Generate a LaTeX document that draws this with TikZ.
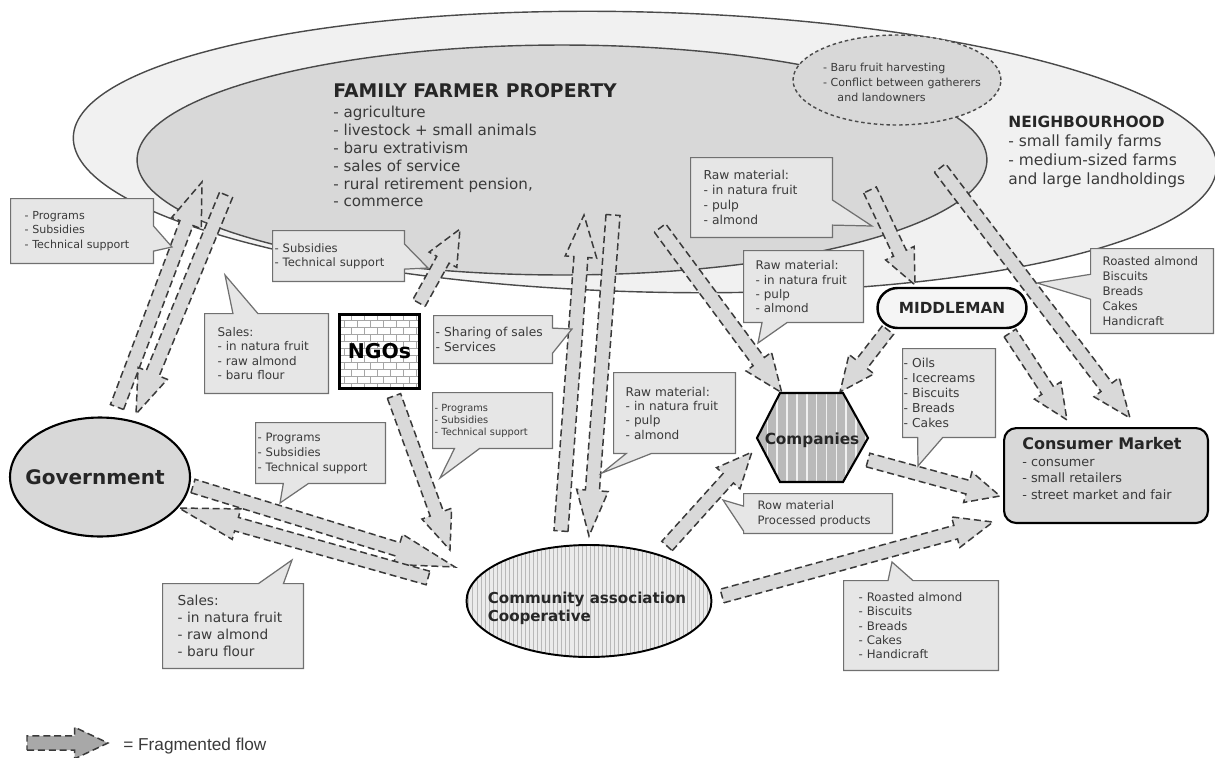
\documentclass[tikz,border=0pt]{standalone}
\usepackage{fontspec}
\setmainfont{DejaVu Sans}
\newfontfamily\legendfont{Liberation Sans}
\usetikzlibrary{shapes.geometric,shapes.callouts,shapes.misc,patterns,patterns.meta,calc}

\definecolor{outerfill}{HTML}{F1F1F1}
\definecolor{innerfill}{HTML}{D8D8D8}
\definecolor{ellline}{HTML}{4A4A4A}
\definecolor{boxfill}{HTML}{E6E6E6}
\definecolor{boxline}{HTML}{707070}
\definecolor{arrowfill}{HTML}{D9D9D9}
\definecolor{arrowline}{HTML}{3A3A3A}
\definecolor{textgray}{HTML}{3A3A3A}
\definecolor{legendfill}{HTML}{A8A8A8}

\newcommand\fsz[2]{\fontsize{#1}{#2}\selectfont}

% fat dashed flow arrow: #1 extra style, #2 head length, #3 start, #4 tip
\newcommand\fflow[4][]{%
  \draw[flowarrow,#1] let \p1=(#3), \p2=(#4),
    \n1={atan2(\y2-\y1,\x2-\x1)}, \n2={veclen(\x2-\x1,\y2-\y1)} in
    [shift={(\p1)}, rotate=\n1]
    (0pt,-4pt) -- ({\n2-#2},-4pt) -- ({\n2-#2},-9pt) -- ({\n2+0pt},0pt)
    -- ({\n2-#2},9pt) -- ({\n2-#2},4pt) -- (0pt,4pt) -- cycle;}

\tikzset{
  flowarrow/.style={draw=arrowline, fill=arrowfill, line width=0.85pt,
    dash pattern=on 4pt off 2.2pt, line join=miter},
  callbox/.style={rectangle callout, draw=boxline, fill=boxfill, line width=0.7pt,
    align=left, anchor=north west, inner ysep=0pt, text=textgray,
    callout pointer width=0.5cm},
  bigellipse/.style={ellipse, draw=ellline, line width=0.8pt, inner sep=0pt},
  plaintext/.style={inner sep=0pt, align=left, anchor=north west},
}

\begin{document}
\begin{tikzpicture}[x=0.02cm,y=-0.02cm]
\useasboundingbox (0,0) rectangle (1215,758);
\fill[white] (0,0) rectangle (1215,758);

% ---------- property areas ----------
\node[bigellipse, fill=outerfill, minimum width=22.88cm, minimum height=5.6cm, rotate=-1.5] (neigh) at (645,152) {};
\node[bigellipse, fill=innerfill, minimum width=17cm, minimum height=4.6cm] (family) at (562,160) {};
\node[bigellipse, fill=innerfill, dash pattern=on 2pt off 1.6pt, minimum width=4.16cm, minimum height=1.8cm] (harvest) at (897,80) {};
\node[inner sep=0pt, align=left, text=textgray, font=\fsz{6.3}{8.5}] (harvesttext) at (902,82)
  {- Baru fruit harvesting\\- Conflict between gatherers\\\hspace*{1.3em}and landowners};

\node[inner sep=0pt, anchor=base west, font=\fsz{10.7}{12}\bfseries, text=black!85] (famtitle) at (333,97) {FAMILY FARMER PROPERTY};
\node[plaintext, font=\fsz{8.6}{10.2}, text=textgray] (famlist) at (333,105.5)
  {- agriculture\\- livestock + small animals\\- baru extrativism\\- sales of service\\- rural retirement pension,\\- commerce};

\node[plaintext, font=\fsz{8.8}{10.8}, text=textgray] (neightext) at (1008,116)
  {\textcolor{black!85}{\textbf{NEIGHBOURHOOD}}\\- small family farms\\- medium-sized farms\\and large landholdings};

% ---------- flow arrow end points ----------
\coordinate (a1s) at (117,407);  \coordinate (a1e) at (202,182);
\coordinate (a2s) at (226,195);  \coordinate (a2e) at (136,414);
\coordinate (a3s) at (419,303);  \coordinate (a3e) at (460,229);
\coordinate (a4s) at (394,396);  \coordinate (a4e) at (450,550);
\coordinate (a5s) at (193,486);  \coordinate (a5e) at (455,567);
\coordinate (a6s) at (428,578);  \coordinate (a6e) at (179,508);
\coordinate (a7s) at (613,215);  \coordinate (a7e) at (589,536);
\coordinate (a8s) at (561,531);  \coordinate (a8e) at (584,215);
\coordinate (a9s) at (660,228);  \coordinate (a9e) at (782,393);
\coordinate (a10s) at (870,190); \coordinate (a10e) at (915,285);
\coordinate (a11s) at (940,168); \coordinate (a11e) at (1130,418);
\coordinate (a12s) at (888,330); \coordinate (a12e) at (840,392);
\coordinate (a13s) at (1010,333);\coordinate (a13e) at (1067,420);
\coordinate (a14s) at (868,460); \coordinate (a14e) at (1000,496);
\coordinate (a15s) at (667,546); \coordinate (a15e) at (752,452);
\coordinate (a16s) at (722,596); \coordinate (a16e) at (993,522);
\coordinate (legs) at (27,743);  \coordinate (lege) at (108,743);

\fflow{25pt}{a1s}{a1e}
\fflow{25pt}{a2s}{a2e}
\fflow{20pt}{a3s}{a3e}
\fflow{22pt}{a4s}{a4e}
\fflow{34pt}{a5s}{a5e}
\fflow{34pt}{a6s}{a6e}
\fflow{26pt}{a7s}{a7e}
\fflow{24pt}{a8s}{a8e}
\fflow{22pt}{a9s}{a9e}
\fflow{20pt}{a10s}{a10e}
\fflow{22pt}{a11s}{a11e}
\fflow{20pt}{a12s}{a12e}
\fflow{20pt}{a13s}{a13e}
\fflow{19pt}{a14s}{a14e}
\fflow{20pt}{a15s}{a15e}
\fflow{22pt}{a16s}{a16e}
\fflow[fill=legendfill]{19pt}{legs}{lege}

% ---------- actors ----------
\node[bigellipse, fill=innerfill, draw=black, line width=1.2pt, minimum width=3.6cm, minimum height=2.38cm] (gov) at (100,477) {};
\node[inner sep=0pt, font=\fsz{11.4}{13}\bfseries, text=black!85] (govtext) at (95,477) {Government};

% NGOs box with fine brick fill
\fill[white] (338,313) rectangle (418,387);
\begin{scope}
  \clip (338,313) rectangle (418,387);
  \foreach \r [evaluate=\r as \off using {mod(\r,2)*6.5}] in {0,...,10} {
    \draw[black!35, line width=0.45pt] (338,313+\r*7) -- (418,313+\r*7);
    \foreach \c in {0,...,6}
      \draw[black!35, line width=0.45pt] (338+\c*13+\off,313+\r*7) -- ++(0,7);
  }
\end{scope}
\node[rectangle, draw=black, line width=1.7pt,
  minimum width=1.6cm, minimum height=1.48cm, anchor=north west, inner sep=0pt,
  font=\fsz{11.6}{13}\bfseries] (ngo) at (338,313) {NGOs};

\node[rounded rectangle, draw=black, line width=1.4pt, fill=white!96!black, minimum width=2.98cm,
  minimum height=0.8cm, inner sep=0pt, font=\fsz{8.7}{10}\bfseries, text=black!85] (mid) at (952,308) {MIDDLEMAN};

\draw[black, line width=1.2pt, preaction={fill=black!27},
  pattern={Lines[angle=90,distance=5.6pt,line width=0.9pt]}, pattern color=black!6]
  (780,393) -- (843,393) -- (868,438) -- (843,482) -- (780,482) -- (757,438) -- cycle;
\node[inner sep=0pt, font=\fsz{8.7}{10}\bfseries, text=black!85] (comp) at (812,440) {Companies};

\node[bigellipse, draw=black, line width=1.1pt, preaction={fill=black!8},
  pattern={Lines[angle=90,distance=2.3pt,line width=0.35pt]}, pattern color=black!28,
  minimum width=4.9cm, minimum height=2.24cm] (coop) at (589,601) {};
\node[inner sep=0pt, align=left, font=\fsz{8.6}{10.4}\bfseries, text=black!85] (cooptext) at (587,608)
  {Community association\\Cooperative};

\node[rectangle, rounded corners=7pt, draw=black, line width=1.2pt, fill=innerfill,
  minimum width=4.08cm, minimum height=1.9cm, anchor=north west, inner sep=0pt] (cons) at (1003,427) {};
\node[plaintext, font=\fsz{7.3}{9.4}, text=textgray] (constext) at (1022,437)
  {\textcolor{black!85}{\fsz{9.1}{9.4}\bfseries Consumer Market}\\- consumer\\- small retailers\\- street market and fair};

% ---------- callouts ----------
\node[callbox, text width=2.30cm, inner xsep=0.28cm, minimum height=1.30cm, font=\fsz{6.3}{8.5},
  callout absolute pointer={(172,247)}] (c1) at (10,198) {- Programs\\- Subsidies\\- Technical support};
\node[callbox, text width=2.56cm, inner xsep=0.04cm, minimum height=1.02cm, font=\fsz{6.6}{8.3},
  callout absolute pointer={(428,268)}] (c2) at (272,230) {- Subsidies\\- Technical support};
\node[callbox, text width=1.96cm, inner xsep=0.26cm, minimum height=1.6cm, font=\fsz{6.8}{8.2},
  callout absolute pointer={(225,275)}] (c3) at (204,313) {Sales:\\- in natura fruit\\- raw almond\\- baru flour};
\node[callbox, text width=2.30cm, inner xsep=0.04cm, minimum height=0.96cm, font=\fsz{7}{8.4},
  callout absolute pointer={(572,329)}] (c5) at (433,315) {- Sharing of sales\\- Services};
\node[callbox, text width=2.32cm, inner xsep=0.04cm, minimum height=1.12cm, font=\fsz{5.6}{6.9},
  callout absolute pointer={(440,478)}] (c6) at (432,392) {- Programs\\- Subsidies\\- Technical support};
\node[callbox, text width=1.96cm, inner xsep=0.24cm, minimum height=1.62cm, font=\fsz{6.9}{8.2},
  callout absolute pointer={(602,473)}] (c7) at (613,372) {Raw material:\\- in natura fruit\\- pulp\\- almond};
\node[callbox, text width=2.32cm, inner xsep=0.26cm, minimum height=1.6cm, font=\fsz{7}{8.6},
  callout absolute pointer={(872,226)}] (c8) at (690,157) {Raw material:\\- in natura fruit\\- pulp\\- almond};
\node[callbox, text width=1.92cm, inner xsep=0.24cm, minimum height=1.44cm, font=\fsz{6.8}{8},
  callout absolute pointer={(758,343)}] (c9) at (743,250) {Raw material:\\- in natura fruit\\- pulp\\- almond};
\node[callbox, text width=1.98cm, inner xsep=0.24cm, minimum height=1.7cm, font=\fsz{6.7}{8.5},
  callout absolute pointer={(1037,283)}] (c11) at (1090,248) {Roasted almond\\Biscuits\\Breads\\Cakes\\Handicraft};
\node[callbox, text width=1.82cm, inner xsep=0.02cm, minimum height=1.78cm, font=\fsz{7}{8.5},
  callout absolute pointer={(918,466)}] (c12) at (902,348) {- Oils\\- Icecreams\\- Biscuits\\- Breads\\- Cakes};
\node[callbox, text width=2.42cm, inner xsep=0.28cm, minimum height=0.8cm, font=\fsz{6.6}{8.2},
  callout absolute pointer={(723,500)}] (c14) at (743,493) {Row material\\Processed products};
\node[callbox, text width=2.5cm, inner xsep=0.3cm, minimum height=1.8cm, font=\fsz{6.7}{8.2},
  callout absolute pointer={(892,562)}] (c16) at (843,580) {- Roasted almond\\- Biscuits\\- Breads\\- Cakes\\- Handicraft};
\node[callbox, text width=2.22cm, inner xsep=0.3cm, minimum height=1.7cm, font=\fsz{7.8}{9.7},
  callout absolute pointer={(292,560)}] (c17) at (162,583) {Sales:\\- in natura fruit\\- raw almond\\- baru flour};
\node[callbox, text width=2.52cm, inner xsep=0.04cm, minimum height=1.22cm, font=\fsz{6.6}{8.5},
  callout absolute pointer={(280,503)}] (c18) at (255,422) {- Programs\\- Subsidies\\- Technical support};

% ---------- legend ----------
\node[inner sep=0pt, anchor=west, font=\legendfont\fsz{9.8}{11}, text=textgray] (legend) at (123,746) {= Fragmented flow};
\end{tikzpicture}
\end{document}
